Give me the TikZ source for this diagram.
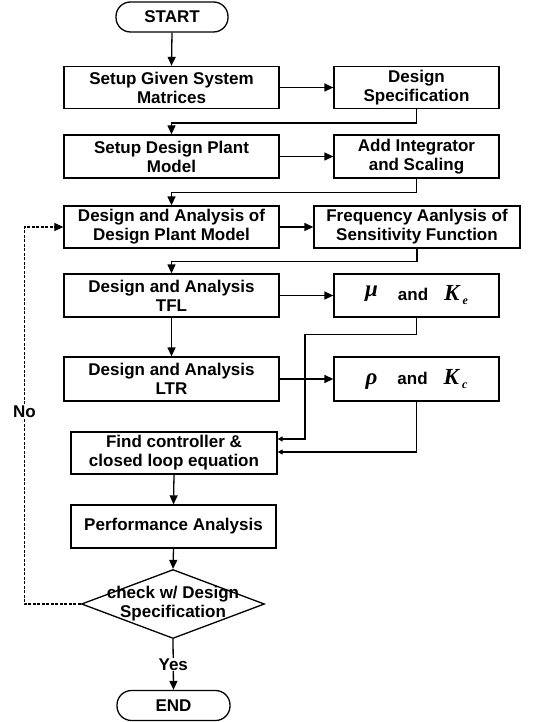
\documentclass[tikz,border=0pt]{standalone}
\usepackage{fontspec}
\setmainfont{Liberation Sans}
\newfontfamily\symfont{Liberation Serif}
\usetikzlibrary{arrows.meta,shapes.geometric}
\newcommand{\bigsym}[1]{{\symfont\itshape\fontsize{23}{24}\selectfont #1}}
\newcommand{\subsym}[1]{\hspace{3pt}\raisebox{-4pt}{\symfont\itshape\fontsize{12}{14}\selectfont #1}}
\begin{document}
\begin{tikzpicture}[x=1pt,y=-1pt,
  every node/.style={font=\bfseries\fontsize{17}{19}\selectfont},
  box/.style={draw, line width=1.3pt, align=center, inner sep=1pt, minimum height=42pt},
  wbox/.style={box, minimum width=215pt},
  nbox/.style={box, minimum width=165pt},
  term/.style={draw, line width=1.3pt, rounded corners=14.5pt, minimum height=30pt, inner sep=1pt},
  arr/.style={line width=1.3pt, -{Triangle[length=9pt,width=8pt]}},
  sarr/.style={line width=1.3pt, -{Triangle[length=5pt,width=5pt]}},
  fb/.style={line width=1.1pt, dash pattern=on 3pt off 1.5pt, -{Triangle[length=9pt,width=8pt]}},
  lbl/.style={fill=white, inner sep=1pt}
]
\useasboundingbox (0,0) rectangle (543,722);

\node[term, minimum width=112pt] (start) at (172,17) {START};
\node[wbox] (b1) at (171.5,87.5) {Setup Given System\\Matrices};
\node[nbox] (b2) at (416.5,87.5) {Design\\Specification};
\node[wbox, minimum height=43pt] (b3) at (171.5,156.5) {Setup Design Plant\\Model};
\node[nbox, minimum height=43pt] (b4) at (416.5,156.5) {Add Integrator\\and Scaling};
\node[wbox] (b5) at (171.5,227) {Design and Analysis of\\Design Plant Model};
\node[box, minimum width=206pt] (b6) at (417,227) {Frequency Aanlysis of\\Sensitivity Function};
\node[wbox, minimum height=43pt] (b7) at (171.5,295.5) {Design and Analysis\\TFL};
\node[nbox, minimum height=43pt] (b8) at (416.5,295.5) {\raisebox{4pt}{\bigsym{μ}}\hspace{20pt}and\hspace{16pt}\bigsym{K}\subsym{e}};
\node[wbox, minimum height=44pt] (b9) at (171.5,379) {Design and Analysis\\LTR};
\node[nbox, minimum height=44pt] (b10) at (416.5,379) {\bigsym{ρ}\hspace{20pt}and\hspace{16pt}\bigsym{K}\subsym{c}};
\node[box, minimum width=206pt] (b11) at (174,453) {Find controller \&\\closed loop equation};
\node[box, minimum width=205pt, minimum height=43pt] (b12) at (173.5,526.5) {Performance Analysis};
\node[diamond, draw, line width=1.3pt, minimum width=183pt, minimum height=69pt, inner sep=0pt] (dia) at (173,604) {};
\node[align=center, inner sep=0pt] (diat) at (dia.center) {check w/ Design\\Specification};
\node[term, minimum width=113pt] (end) at (173.5,705.5) {END};

\draw[arr] (start.south) -- (b1.north);
\draw[arr] (b1.east) -- (b2.west);
\draw[arr] (b2.south) -- ++(0,14) -| (b3.north);
\draw[arr] (b3.east) -- (b4.west);
\draw[arr] (b4.south) -- ++(0,14) -| (b5.north);
\draw[arr] (b5.east) -- (b6.west);
\draw[arr] (b6.south) -- ++(0,13) -| (b7.north);
\draw[arr] (b7.east) -- (b8.west);
\draw[arr] (b7.south) -- (b9.north);
\draw[arr] (b9.east) -- (b10.west);
\draw[sarr] (b8.south) -- ++(0,17) -- ++(-111.5,0) |- ([yshift=14pt]b11.east);
\draw[sarr] (b10.south) |- ([yshift=1pt]b11.east);
\draw[arr] (b11.south) -- (b12.north);
\draw[arr] (b12.south) -- (dia.north);
\draw[arr] (dia.south) -- node[lbl] {Yes} (end.north);
\draw[fb] (dia.west) -- ++(-56.5,0) |- node[lbl, pos=0.255] {No} (b5.west);
\end{tikzpicture}
\end{document}
